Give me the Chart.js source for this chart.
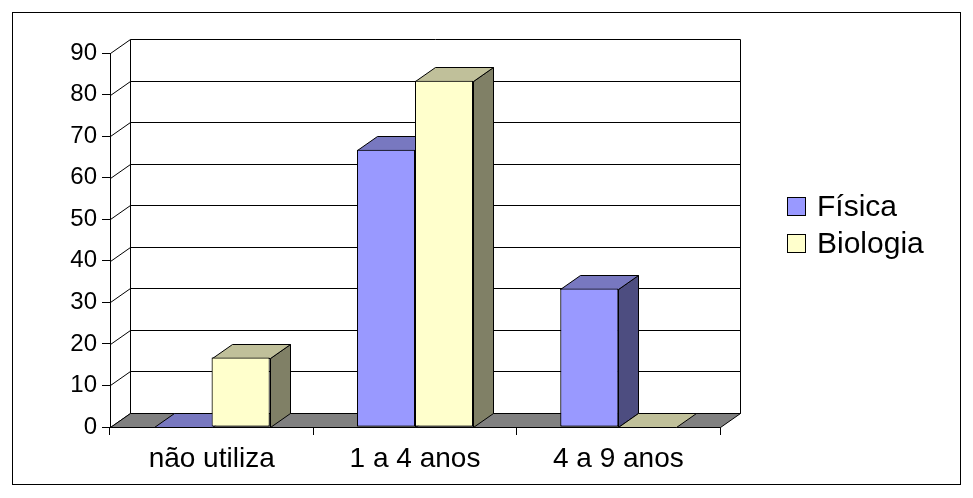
<!DOCTYPE html>
<html>
<head>
<meta charset="utf-8">
<script src="https://cdn.jsdelivr.net/npm/chart.js@4"></script>
<style>
  html, body { margin: 0; padding: 0; background: #fff; }
</style>
</head>
<body>
<canvas id="grafico" width="973" height="498"></canvas>
<script>
const categorias = ['não utiliza', '1 a 4 anos', '4 a 9 anos'];
const fisica = [0, 66.7, 33.3];
const biologia = [16.7, 83.3, 0];
const yTicks = [0, 10, 20, 30, 40, 50, 60, 70, 80, 90];

const FONTE = 'Arial, "Liberation Sans", sans-serif';
// profundidade do efeito 3D (frente -> fundo)
const DX = 20, DY = -14;

// cores das faces: frente, topo, lateral
const faces = [
  { front: '#9999FF', top: '#7878C0', side: '#4D4D80' },
  { front: '#FFFFCC', top: '#C0C09A', side: '#808066' }
];

function poly(ctx, pts, fill) {
  ctx.beginPath();
  ctx.moveTo(pts[0][0], pts[0][1]);
  for (let i = 1; i < pts.length; i++) ctx.lineTo(pts[i][0], pts[i][1]);
  ctx.closePath();
  if (fill) { ctx.fillStyle = fill; ctx.fill(); }
  ctx.stroke();
}

const plugin3d = {
  id: 'efeito3d',
  beforeDatasetsDraw(chart) {
    const { ctx, chartArea: a, scales } = chart;
    const y = scales.y;
    ctx.save();
    ctx.strokeStyle = '#000';
    ctx.lineWidth = 1;
    // parede do fundo + parede lateral
    yTicks.forEach(v => {
      const py = Math.round(y.getPixelForValue(v)) + 0.5;
      ctx.beginPath();
      ctx.moveTo(a.left + 0.5, py);
      ctx.lineTo(a.left + DX + 0.5, py + DY);
      ctx.lineTo(a.right + DX + 0.5, py + DY);
      ctx.stroke();
    });
    const top = Math.round(y.getPixelForValue(90)) + 0.5;
    const bot = Math.round(y.getPixelForValue(0)) + 0.5;
    ctx.beginPath();
    ctx.moveTo(a.left + DX + 0.5, top + DY);
    ctx.lineTo(a.left + DX + 0.5, bot + DY);
    ctx.moveTo(a.right + DX + 0.5, top + DY);
    ctx.lineTo(a.right + DX + 0.5, bot + DY);
    ctx.stroke();
    // chao
    poly(ctx, [
      [a.left + 0.5, bot], [a.right + 0.5, bot],
      [a.right + DX + 0.5, bot + DY], [a.left + DX + 0.5, bot + DY]
    ], '#808080');
    ctx.restore();
  },
  afterDatasetsDraw(chart) {
    // desenha as colunas da esquerda para a direita: lateral, topo, frente
    const { ctx, chartArea } = chart;
    const metas = chart.data.datasets.map((ds, i) => chart.getDatasetMeta(i));
    ctx.save();
    ctx.strokeStyle = '#000';
    ctx.lineWidth = 1;
    categorias.forEach((c, ci) => {
      metas.forEach((meta, di) => {
        const bar = meta.data[ci];
        const cores = faces[di];
        const l = Math.round(bar.x - bar.width / 2) + 0.5;
        const r = Math.round(bar.x + bar.width / 2) + 0.5;
        const t = Math.round(bar.y) + 0.5;
        const b = Math.round(bar.base) + 0.5;
        if (b - t > 0.5) {
          poly(ctx, [[r, t], [r + DX, t + DY], [r + DX, b + DY], [r, b]], cores.side);
        }
        poly(ctx, [[l, t], [r, t], [r + DX, t + DY], [l + DX, t + DY]], cores.top);
        bar.draw(ctx, chartArea);
      });
    });
    ctx.restore();
  },
  afterDraw(chart) {
    const { ctx } = chart;
    ctx.save();
    // moldura externa
    ctx.strokeStyle = '#000';
    ctx.lineWidth = 1;
    ctx.strokeRect(12.5, 12.5, 948, 472);
    // legenda
    ctx.font = '30px ' + FONTE;
    ctx.textBaseline = 'middle';
    ctx.textAlign = 'left';
    chart.data.datasets.forEach((ds, i) => {
      const bx = 787.5, by = 197.5 + i * 37;
      ctx.fillStyle = ds.backgroundColor;
      ctx.fillRect(bx, by, 18, 18);
      ctx.strokeRect(bx, by, 18, 18);
      ctx.fillStyle = '#000';
      ctx.fillText(ds.label, 817, by + 10);
    });
    ctx.restore();
  }
};

new Chart(document.getElementById('grafico'), {
  type: 'bar',
  data: {
    labels: categorias,
    datasets: [
      { label: 'Física', data: fisica, backgroundColor: faces[0].front },
      { label: 'Biologia', data: biologia, backgroundColor: faces[1].front }
    ]
  },
  options: {
    responsive: false,
    animation: false,
    layout: { padding: { left: 0, top: 53, right: 253, bottom: 0 } },
    datasets: {
      bar: {
        borderColor: '#000',
        borderWidth: 1,
        borderSkipped: false,
        barPercentage: 1,
        categoryPercentage: 0.57
      }
    },
    plugins: {
      legend: { display: false },
      tooltip: { enabled: false }
    },
    scales: {
      x: {
        afterFit(scale) { scale.height = 71; },
        grid: { drawOnChartArea: false, tickLength: 8, color: '#000', offset: true },
        border: { color: '#000' },
        ticks: {
          color: '#000', padding: 7, maxRotation: 0, autoSkip: false,
          font: { family: FONTE, size: 28 }
        }
      },
      y: {
        min: 0,
        max: 90,
        afterFit(scale) { scale.width = 110; },
        afterBuildTicks(scale) { scale.ticks = yTicks.map(v => ({ value: v })); },
        grid: { drawOnChartArea: false, tickLength: 8, color: '#000' },
        border: { color: '#000' },
        ticks: {
          color: '#000', padding: 5,
          font: { family: FONTE, size: 24 }
        }
      }
    }
  },
  plugins: [plugin3d]
});
</script>
</body>
</html>
